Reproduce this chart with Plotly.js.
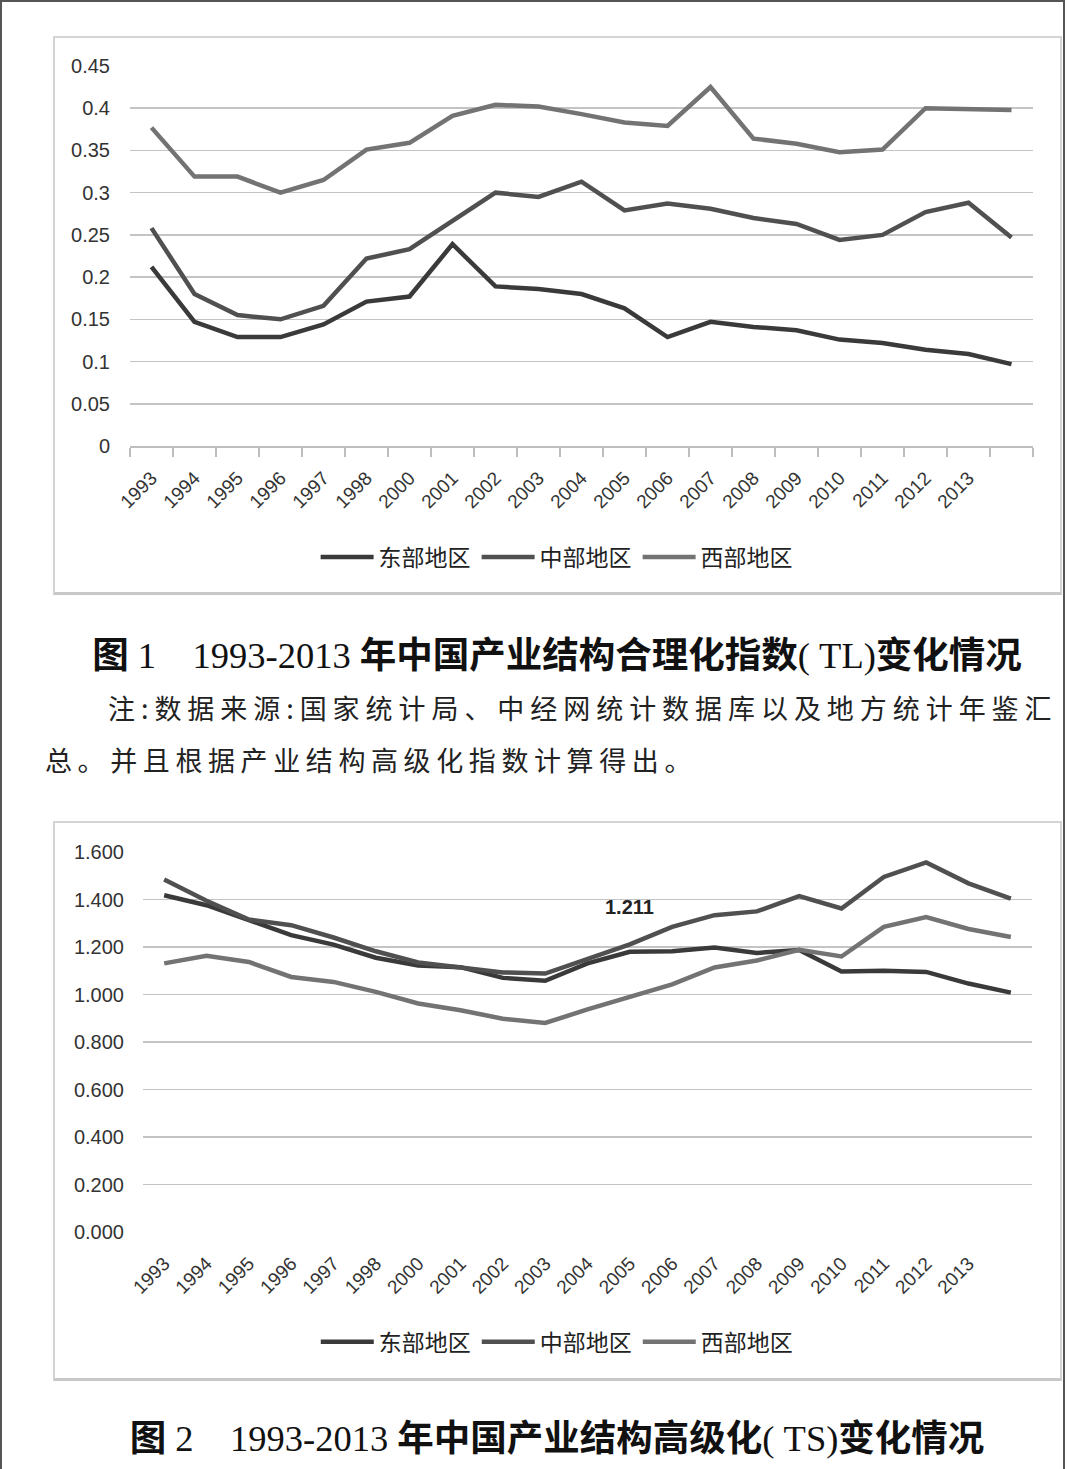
<!DOCTYPE html>
<html><head><meta charset="utf-8">
<script src="https://cdn.plot.ly/plotly-3.0.1.min.js"></script>
<style>
html,body{margin:0;padding:0;background:#fff;}
#page{position:relative;width:1067px;height:1469px;overflow:hidden;background:#fff;}
.frame{position:absolute;left:0;top:0;width:1061px;height:1500px;border-left:2px solid #555;border-top:2px solid #555;border-right:2px solid #555;}
.box{position:absolute;left:53px;width:1009px;border:2px solid #d4d4d4;border-bottom:3px solid #c8c8c8;box-sizing:border-box;}
.plot{position:absolute;left:53px;width:1009px;}
.title{position:absolute;left:0;width:1114px;text-align:center;white-space:nowrap;color:#111;}
.cjk{font-family:"Noto Sans CJK SC";font-weight:700;}
.num{font-family:"Liberation Serif";font-weight:400;}
.note{position:absolute;white-space:nowrap;font-family:"Noto Sans CJK SC";font-weight:400;color:#222;font-size:27px;}
</style>
</head><body>
<div id="page">
<div class="frame"></div>
<div class="box" style="top:36px;height:559px;"></div>
<div class="box" style="top:821px;height:560px;"></div>
<div id="chart1" class="plot" style="top:38px;height:555px;"></div>
<div id="chart2" class="plot" style="top:823px;height:556px;"></div>
<div class="title" style="top:629px;font-size:36.5px;line-height:48px;"><span class="cjk">图</span><span class="num"> 1&nbsp;&nbsp;&nbsp;&nbsp;1993-2013 </span><span class="cjk">年中国产业结构合理化指数</span><span class="num">( TL)</span><span class="cjk">变化情况</span></div>
<div class="note" style="left:108px;top:688px;letter-spacing:5.95px;">注:数据来源:国家统计局、中经网统计数据库以及地方统计年鉴汇</div>
<div class="note" style="left:45px;top:740px;letter-spacing:5.6px;">总。并且根据产业结构高级化指数计算得出。</div>
<div class="title" style="top:1412px;font-size:36.5px;line-height:48px;"><span class="cjk">图</span><span class="num"> 2&nbsp;&nbsp;&nbsp;&nbsp;1993-2013 </span><span class="cjk">年中国产业结构高级化</span><span class="num">( TS)</span><span class="cjk">变化情况</span></div>
</div>
<script>
// categories (last category has an empty label)
var categories = ['1993','1994','1995','1996','1997','1998','2000','2001','2002','2003','2004','2005','2006','2007','2008','2009','2010','2011','2012','2013',''];
var seriesNames = ['东部地区','中部地区','西部地区'];

// Figure 1: TL index
var tlEast    = [0.212,0.147,0.129,0.129,0.144,0.171,0.177,0.239,0.189,0.186,0.180,0.163,0.129,0.147,0.141,0.137,0.126,0.122,0.114,0.109,0.097];
var tlCentral = [0.258,0.180,0.155,0.150,0.166,0.222,0.233,0.267,0.300,0.295,0.313,0.279,0.287,0.281,0.270,0.263,0.244,0.250,0.277,0.288,0.247];
var tlWest    = [0.377,0.319,0.319,0.300,0.315,0.351,0.359,0.391,0.404,0.402,0.393,0.383,0.379,0.425,0.364,0.358,0.348,0.351,0.400,0.399,0.398];
var tlTicks   = [0,0.05,0.1,0.15,0.2,0.25,0.3,0.35,0.4,0.45];
var tlTickText= ['0','0.05','0.1','0.15','0.2','0.25','0.3','0.35','0.4','0.45'];

// Figure 2: TS index
var tsEast    = [1.418,1.376,1.313,1.250,1.210,1.155,1.122,1.115,1.070,1.058,1.131,1.180,1.182,1.198,1.175,1.187,1.097,1.100,1.095,1.046,1.008];
var tsCentral = [1.484,1.395,1.316,1.292,1.240,1.182,1.135,1.112,1.093,1.088,1.148,1.211,1.285,1.334,1.350,1.414,1.362,1.495,1.556,1.468,1.404];
var tsWest    = [1.131,1.163,1.137,1.074,1.053,1.011,0.962,0.934,0.898,0.880,0.937,0.990,1.043,1.114,1.143,1.188,1.160,1.285,1.326,1.276,1.242];
var tsTicks   = [0,0.2,0.4,0.6,0.8,1.0,1.2,1.4,1.6];
var labelIndex = 11; // 2005 data label on 中部地区

var colors = ['#3a3a3a','#505050','#737373'];
var xs = categories.map(function(c,i){return i;});
var labeled = categories.slice(0,20);
var labeledIdx = labeled.map(function(c,i){return i;});

function traces(arrs){
  return arrs.map(function(a,k){
    return {x:xs,y:a,type:'scatter',mode:'lines',name:seriesNames[k],
      line:{color:colors[k],width:4.5},hoverinfo:'skip'};
  });
}
function xaxis(withTicks){
  var ax = {range:[-0.5,categories.length-0.5],tickmode:'array',tickvals:labeledIdx,ticktext:labeled,
    tickangle:-45,tickfont:{family:'Liberation Sans',size:19,color:'#333'},
    ticks:'outside',ticklen:12,tickcolor:'rgba(0,0,0,0)',showgrid:false,zeroline:false,
    showline:withTicks,linecolor:'#bdbdbd',linewidth:1.5,fixedrange:true};
  if(withTicks){ax.minor={tickmode:'linear',tick0:-0.5,dtick:1,ticks:'outside',ticklen:9,tickcolor:'#bdbdbd',tickwidth:1.5,showgrid:false};}
  return ax;
}
function legend(yv,xv){
  return {orientation:'h',x:xv,xanchor:'center',y:yv,yanchor:'middle',
    font:{family:'Noto Sans CJK SC',size:23,color:'#222'},itemwidth:53,entrywidth:93,bgcolor:'rgba(0,0,0,0)'};
}
var cfg = {staticPlot:true,displayModeBar:false};

Plotly.newPlot('chart1', traces([tlEast,tlCentral,tlWest]), {
  width:1009,height:555,margin:{l:77,r:29,t:28,b:147},
  paper_bgcolor:'rgba(0,0,0,0)',plot_bgcolor:'rgba(0,0,0,0)',showlegend:true,
  legend:legend(-0.292,0.473),
  xaxis:xaxis(true),
  yaxis:{range:[0,0.45],tickmode:'array',tickvals:tlTicks,ticktext:tlTickText,
    tickfont:{family:'Liberation Sans',size:20,color:'#333'},ticks:'outside',ticklen:15,tickcolor:'rgba(0,0,0,0)',
    showgrid:true,gridcolor:'#c4c4c4',gridwidth:1.5,zeroline:false,showline:false,fixedrange:true}
}, cfg);

Plotly.newPlot('chart2', traces([tsEast,tsCentral,tsWest]), {
  width:1009,height:556,margin:{l:90,r:30,t:29,b:147},
  paper_bgcolor:'rgba(0,0,0,0)',plot_bgcolor:'rgba(0,0,0,0)',showlegend:true,
  legend:legend(-0.289,0.466),
  xaxis:xaxis(false),
  yaxis:{range:[0,1.6],tickmode:'array',tickvals:tsTicks,ticktext:tsTicks.map(function(v){return v.toFixed(3);}),
    tickfont:{family:'Liberation Sans',size:20,color:'#333'},ticks:'outside',ticklen:14,tickcolor:'rgba(0,0,0,0)',
    showgrid:true,gridcolor:'#c4c4c4',gridwidth:1.5,zeroline:false,showline:false,fixedrange:true},
  annotations:[{x:labelIndex,y:tsCentral[labelIndex],text:'<b>'+tsCentral[labelIndex].toFixed(3)+'</b>',
    showarrow:false,yshift:37,font:{family:'Liberation Sans',size:20,color:'#222'}}]
}, cfg);
</script>
</body></html>
